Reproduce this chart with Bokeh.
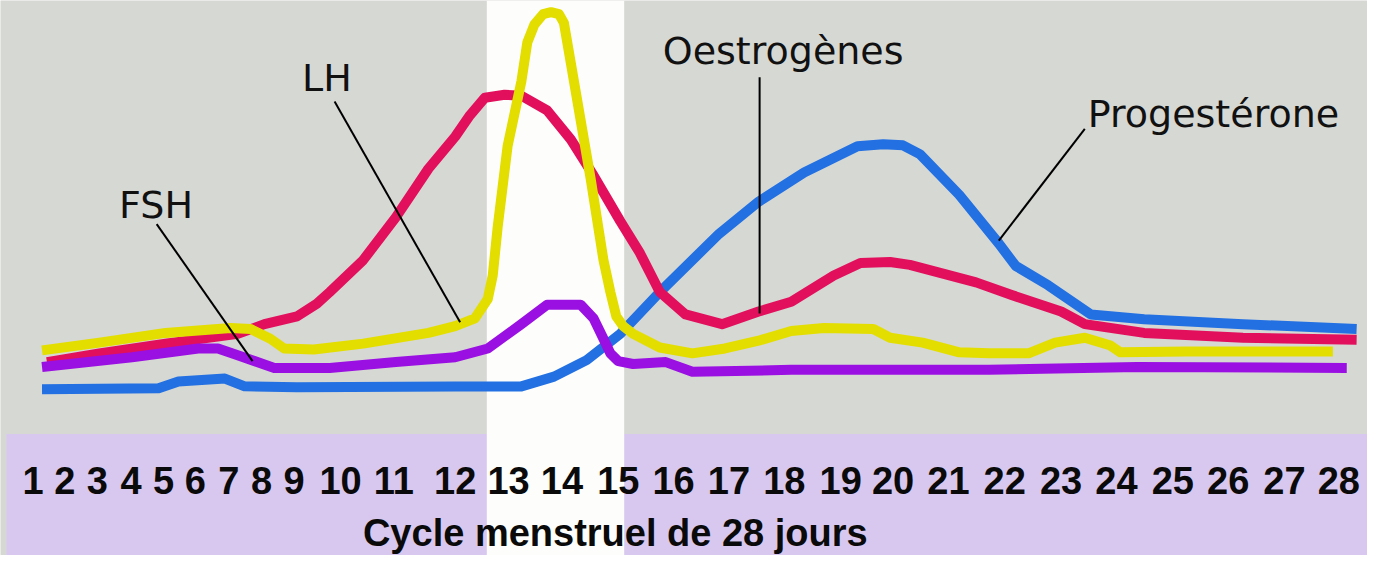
from bokeh.plotting import figure
from bokeh.models import Range1d
from bokeh.core.properties import value
from bokeh.embed import file_html
from bokeh.resources import INLINE

# ---- data (horizontal position along the cycle strip, vertical level measured from top) ----
day_labels = [str(d) for d in range(1, 29)]
day_pos = [33, 65, 98, 132, 165, 197, 231, 264, 297, 344, 398, 460, 514, 568,
           625, 681, 737, 793, 850, 903, 959, 1016, 1073, 1129, 1186, 1242, 1299, 1354]

lh_x = [42, 100, 167, 233, 253, 273, 287, 317, 367, 433, 460, 480, 493, 498, 503, 513,
        527, 533, 540, 549, 557, 565, 570, 583, 597, 610, 617, 623, 630, 640, 667, 700,
        733, 767, 800, 833, 883, 900, 933, 970, 1000, 1040, 1067, 1097, 1123, 1133, 1200, 1348]
lh_y = [360, 352, 342, 337, 338, 348, 358, 359, 353, 342, 335, 327, 307, 283, 233, 150,
        83, 43, 25, 14, 12, 14, 23, 100, 183, 267, 300, 325, 335, 343, 357, 363,
        358, 350, 340, 337, 338, 347, 352, 362, 363, 363, 352, 347, 355, 362, 361, 361]

oes_x = [47, 100, 167, 240, 267, 300, 320, 333, 367, 400, 433, 460, 475, 490, 510, 527,
         553, 577, 600, 627, 647, 667, 693, 730, 767, 800, 843, 870, 900, 920, 987, 1023,
         1073, 1097, 1157, 1257, 1372]
oes_y = [372, 363, 353, 343, 333, 325, 312, 300, 267, 223, 173, 140, 118, 100, 97, 98,
         113, 143, 180, 227, 260, 300, 323, 333, 320, 310, 283, 270, 269, 272, 290, 303,
         320, 333, 342, 347, 349]

fsh_x = [42, 133, 200, 220, 240, 277, 333, 400, 460, 493, 527, 553, 587, 600, 610, 617,
         625, 640, 673, 700, 800, 1000, 1150, 1362]
fsh_y = [377, 367, 358, 358, 365, 378, 378, 372, 367, 358, 333, 313, 313, 327, 348, 363,
         371, 374, 372, 382, 380, 380, 377, 378]

prog_x = [42, 160, 180, 227, 247, 300, 460, 527, 560, 593, 627, 667, 727, 767, 813, 867,
          893, 913, 930, 970, 1010, 1027, 1060, 1103, 1157, 1257, 1372]
prog_y = [400, 399, 392, 389, 397, 398, 397, 397, 387, 370, 343, 300, 240, 207, 177, 150,
          148, 149, 158, 200, 250, 273, 293, 323, 328, 333, 338]

# hormone labels (vertical middle of capitals) and their pointer lines
names = ["FSH", "LH", "Oestrogènes", "Progestérone"]
name_x = [120, 305, 670, 1100]
name_y = [210, 80, 52, 117]
ptr_x0 = [158, 338, 768, 1097]
ptr_y0 = [230, 104, 79, 132]
ptr_x1 = [255, 465, 768, 1010]
ptr_y1 = [371, 331, 322, 247]

title = "Cycle menstruel de 28 jours"
day_row_y = 494
title_y = 548

W, H = 1383, 571

p = figure(width=1367, height=555, output_backend="svg", toolbar_location=None,
           x_range=Range1d(0, W), y_range=Range1d(H, 0), min_border=0,
           background_fill_color="#d6d8d4", border_fill_color="#d6d8d4")
p.axis.visible = False
p.grid.visible = False
p.outline_line_color = None

# lavender day band and white ovulation strip
p.quad(left=[6], right=[W], top=[446], bottom=[H], fill_color="#d8c8f0", line_color=None)
p.quad(left=[492], right=[631], top=[0], bottom=[H], fill_color="#fdfefc", line_color=None)

# curves (bottom to top)
lw = 10
p.line(prog_x, prog_y, line_color="#2270e2", line_width=lw, line_join="round", line_cap="butt")
p.line(oes_x, oes_y, line_color="#e2105c", line_width=lw, line_join="round", line_cap="butt")
p.line(fsh_x, fsh_y, line_color="#9a10e2", line_width=lw, line_join="round", line_cap="butt")
p.line(lh_x, lh_y, line_color="#e3de00", line_width=lw, line_join="round", line_cap="butt")

# pointer lines
p.segment(x0=ptr_x0, y0=ptr_y0, x1=ptr_x1, y1=ptr_y1, line_color="black", line_width=2)

# hormone names
p.text(x=name_x, y=name_y, text=names, text_font=value("DejaVu Sans"),
       text_font_size="38px", text_color="#111111", text_align="left",
       text_baseline="middle")

# day labels
p.text(x=day_pos, y=[day_row_y] * len(day_pos), text=day_labels,
       text_font=value("Liberation Sans"), text_font_style="bold",
       text_font_size="38px", text_color="#0a0a0a", text_align="center",
       text_baseline="middle")

# title
p.text(x=[622], y=[title_y], text=[title], text_font=value("Liberation Sans"),
       text_font_style="bold", text_font_size="38px", text_color="#0a0a0a",
       text_align="center", text_baseline="middle")

open("out.html", "w").write(file_html(p, INLINE))
